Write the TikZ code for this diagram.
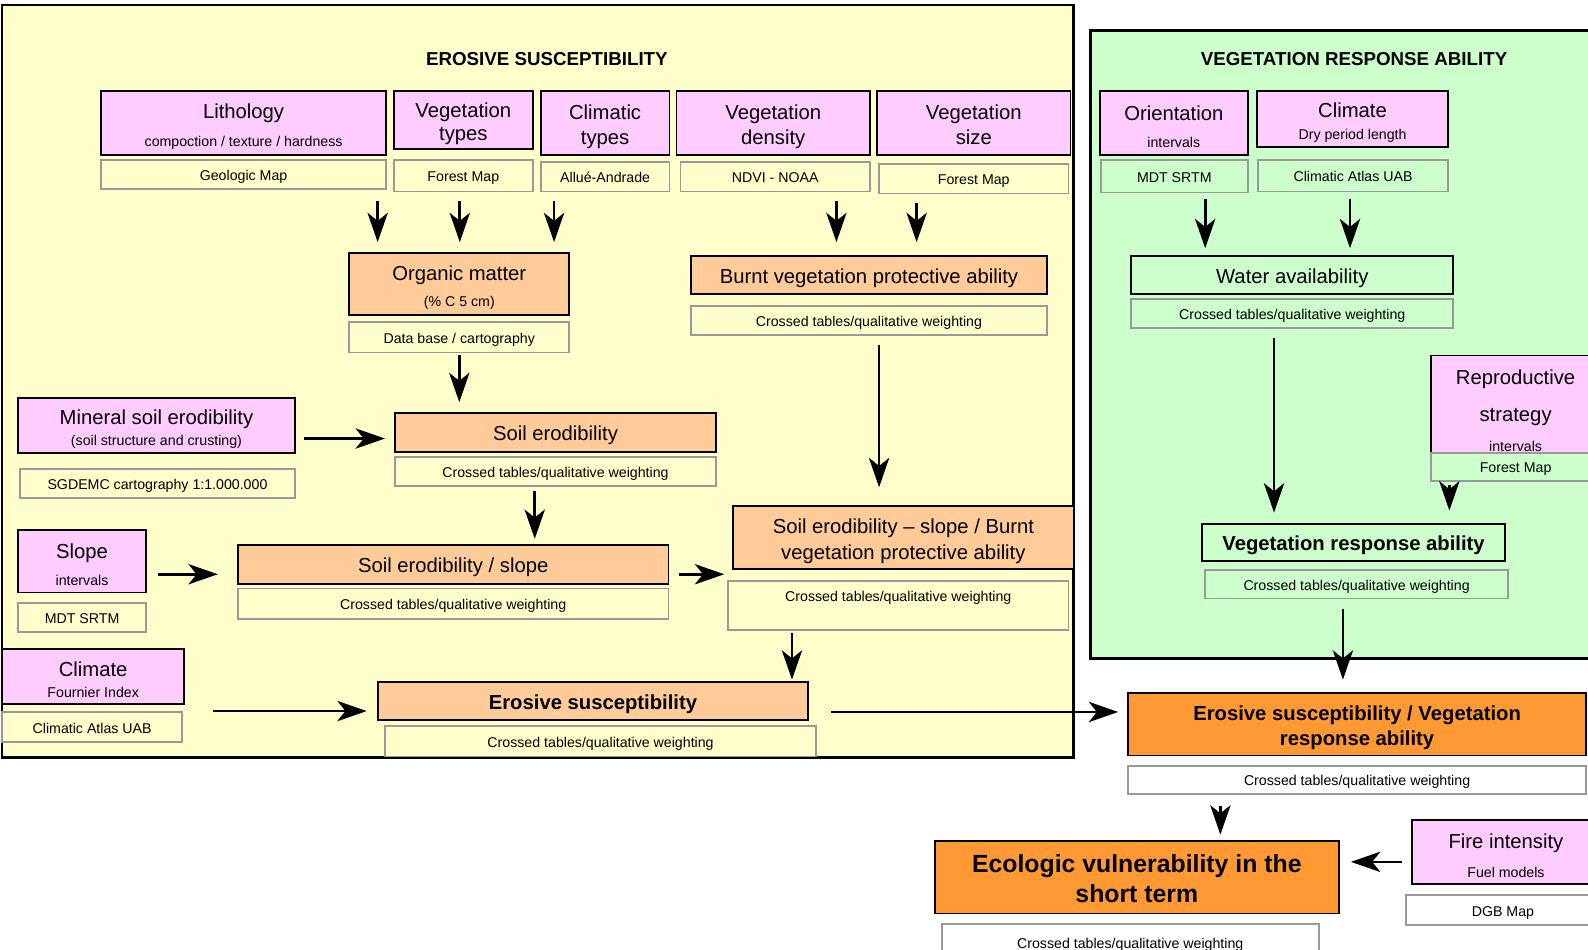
\documentclass[tikz,border=0pt]{standalone}
\usepackage{fontspec}
\setmainfont{Liberation Sans}
\usetikzlibrary{arrows.meta}

\definecolor{panelyellow}{HTML}{FFFFCC}
\definecolor{panelgreen}{HTML}{CCFFCC}
\definecolor{factorpink}{HTML}{FFCCFF}
\definecolor{stagefill}{HTML}{FFCC99}
\definecolor{finalfill}{HTML}{FF9933}
\definecolor{srcgray}{HTML}{999999}

\newcommand{\subline}[1]{{\fontsize{14}{16}\selectfont #1}}
\newcommand{\topgap}[1][21.5pt]{\rule{0pt}{#1}}

\tikzset{
  factor/.style={draw=black, line width=1.8pt, fill=factorpink, inner sep=0pt,
    align=center, font=\fontsize{20}{25}\selectfont},
  stage/.style={factor, fill=stagefill},
  final/.style={factor, fill=finalfill, font=\fontsize{20}{25}\selectfont\bfseries},
  source/.style={draw=srcgray, line width=1.8pt, inner sep=0pt, align=center,
    font=\fontsize{14}{16}\selectfont, text height=12.5pt, text depth=0.5pt},
  oneline/.style={text height=18pt, text depth=1.5pt},
  flow/.style={line width=2.6pt, -{Stealth[length=29pt, width=20pt, inset=8pt]}},
  paneltitle/.style={font=\fontsize{18.5}{22}\selectfont\bfseries},
}

\begin{document}
\begin{tikzpicture}[x=1pt, y=-1pt]
\useasboundingbox (0,0) rectangle (1568,938);

% panels
\filldraw [fill=panelyellow, line width=2.5pt] (2,5) rectangle (1060,748);
\filldraw [fill=panelgreen, line width=2.5pt] (1077,30) rectangle (1595,650);
\node [paneltitle] (estitle) at (540,58) {EROSIVE SUSCEPTIBILITY};
\node [paneltitle] (vrtitle) at (1337,58) {VEGETATION RESPONSE ABILITY};

% input factors
\node [factor, minimum width=281, minimum height=63] (litho) at (240.5,121.5) {\topgap Lithology\\[2pt]\subline{compoction / texture / hardness}};
\node [factor, minimum width=137, minimum height=57] (vegtype) at (457.5,118.5) {\topgap Vegetation\\[-2pt]types};
\node [factor, minimum width=127, minimum height=63] (clitype) at (597.5,121.5) {\topgap Climatic\\types};
\node [factor, minimum width=191, minimum height=63] (vegdens) at (763.5,121.5) {\topgap Vegetation\\density};
\node [factor, minimum width=191, minimum height=63] (vegsize) at (961.5,121.5) {\topgap Vegetation\\size\vphantom{y}};
\node [factor, minimum width=146, minimum height=63] (orient) at (1159,121.5) {\topgap Orientation\\[2pt]\subline{intervals}};
\node [factor, minimum width=189, minimum height=55] (climdry) at (1335.5,117.5) {\topgap Climate\\[-3pt]\subline{Dry period length}};
\node [factor, minimum width=273, minimum height=54] (mineral) at (154.5,420) {\topgap Mineral soil erodibility\\[-4pt]\subline{(soil structure and crusting)}};
\node [factor, minimum width=126, minimum height=62] (slope) at (81,554) {\topgap Slope\\[1pt]\subline{intervals}};
\node [factor, minimum width=180, minimum height=54] (climfour) at (92,668) {\topgap Climate\\[-4pt]\subline{Fournier Index}};
\node [factor, minimum width=167, minimum height=96] (repro) at (1496.5,399) {\topgap[27pt]Reproductive\\[12pt]strategy\\[4pt]\subline{intervals}};
\node [factor, minimum width=186, minimum height=63] (fire) at (1487,841.5) {\topgap Fire intensity\\[3pt]\subline{Fuel models}};

% data sources
\node [source, minimum width=281, minimum height=29] (geosrc) at (240.5,172.5) {Geologic Map};
\node [source, minimum width=137, minimum height=31] (forsrc) at (457.5,173.5) {Forest Map};
\node [source, minimum width=127, minimum height=29] (allsrc) at (597.5,174.5) {Allué-Andrade};
\node [source, minimum width=187, minimum height=29] (ndvisrc) at (765.5,174.5) {NDVI - NOAA};
\node [source, minimum width=187, minimum height=29] (forsrcb) at (961.5,176.5) {Forest Map};
\node [source, minimum width=145, minimum height=32] (mdtsrc) at (1159.5,174) {MDT SRTM};
\node [source, minimum width=188, minimum height=31] (atlsrc) at (1336,173.5) {Climatic Atlas UAB};
\node [source, minimum width=271, minimum height=29] (sgdsrc) at (155.5,477.5) {SGDEMC cartography 1:1.000.000};
\node [source, minimum width=126, minimum height=29] (slopesrc) at (81,609.5) {MDT SRTM};
\node [source, minimum width=178, minimum height=30] (climsrc) at (91,718) {Climatic Atlas UAB};
\node [source, minimum width=167, minimum height=28] (reprosrc) at (1496.5,461) {Forest Map};
\node [source, minimum width=192, minimum height=29] (dgbsrc) at (1484,898.5) {DGB Map};

% intermediate steps
\node [stage, minimum width=217, minimum height=61] (omatter) at (453.5,280.5) {\topgap Organic matter\\[1pt]\subline{(\% C 5 cm)}};
\node [source, minimum width=217, minimum height=30] (omsrc) at (453.5,333) {Data base / cartography};
\node [stage, oneline, minimum width=352, minimum height=37] (burnt) at (858,271.5) {Burnt vegetation protective ability};
\node [source, minimum width=352, minimum height=29] (burntsrc) at (858,316.5) {Crossed tables/qualitative weighting};
\node [stage, oneline, minimum width=317, minimum height=38] (soilerod) at (548.5,427) {Soil erodibility};
\node [source, minimum width=317, minimum height=29] (soilsrc) at (548.5,465.5) {Crossed tables/qualitative weighting};
\node [stage, oneline, minimum width=425, minimum height=39] (erslope) at (447.5,557.5) {Soil erodibility / slope};
\node [source, minimum width=425, minimum height=30] (erslopesrc) at (447.5,596) {Crossed tables/qualitative weighting};
\node [stage, minimum width=336, minimum height=62] (erburnt) at (892,531) {\topgap Soil erodibility -- slope / Burnt\\[1pt]vegetation protective ability};
\node [source, minimum width=336, minimum height=48, text height=12.5pt, text depth=20.5pt] (erburntsrc) at (887,598) {Crossed tables/qualitative weighting};
\node [stage, oneline, minimum width=425, minimum height=38, font=\fontsize{20}{25}\selectfont\bfseries] (erosive) at (585.5,692) {Erosive susceptibility};
\node [source, minimum width=426, minimum height=30] (erosivesrc) at (593,732) {Crossed tables/qualitative weighting};
\node [stage, oneline, fill=panelgreen, minimum width=318, minimum height=37] (water) at (1276,271.5) {Water availability};
\node [source, minimum width=318, minimum height=29] (watersrc) at (1276,309.5) {Crossed tables/qualitative weighting};
\node [stage, oneline, fill=panelgreen, minimum width=299, minimum height=37, font=\fontsize{20}{25}\selectfont\bfseries] (vegresp) at (1336.5,535.5) {Vegetation response ability};
\node [source, minimum width=299, minimum height=28] (vegrespsrc) at (1339.5,577) {Crossed tables/qualitative weighting};
\node [final, minimum width=452, minimum height=62] (esvr) at (1340,715) {\topgap Erosive susceptibility / Vegetation\\response ability};
\node [source, minimum width=452, minimum height=28] (esvrsrc) at (1340,770) {Crossed tables/qualitative weighting};
\node [final, minimum width=399, minimum height=72, font=\fontsize{24.5}{29}\selectfont\bfseries] (ecovul) at (1122.5,866) {\topgap[21pt]Ecologic vulnerability in the\\short term};
\node [source, minimum width=372, minimum height=38] (ecovulsrc) at (1116,931) {Crossed tables/qualitative weighting};

% connectors
\draw [flow, shorten <=11pt, shorten >=10pt] ([xshift=-9pt]geosrc.south east) -- ([xshift=-9pt]geosrc.south east |- omatter.north);
\draw [flow, shorten <=9pt, shorten >=10pt] ([xshift=-3.5pt]forsrc.south) -- ([xshift=-3.5pt]forsrc.south |- omatter.north);
\draw [flow, shorten <=9pt, shorten >=10pt] ([xshift=14pt]allsrc.south west) -- ([xshift=14pt]allsrc.south west |- omatter.north);
\draw [flow, shorten <=9pt, shorten >=13pt] ([xshift=-34pt]ndvisrc.south east) -- ([xshift=-34pt]ndvisrc.south east |- burnt.north);
\draw [flow, shorten <=9pt, shorten >=13pt] ([xshift=38pt]forsrcb.south west) -- ([xshift=38pt]forsrcb.south west |- burnt.north);
\draw [flow, shorten <=6pt, shorten >=7pt] ([xshift=30.5pt]mdtsrc.south) -- ([xshift=30.5pt]mdtsrc.south |- water.north);
\draw [flow, shorten <=7pt, shorten >=7pt] ([xshift=-3pt]atlsrc.south) -- ([xshift=-3pt]atlsrc.south |- water.north);
\draw [flow, shorten <=2pt, shorten >=10pt] (omsrc.south) -- (omsrc.south |- soilerod.north);
\draw [flow, shorten <=9pt, shorten >=18pt] ([xshift=10pt]burntsrc.south) -- ([xshift=10pt]burntsrc.south |- erburnt.north);
\draw [flow, shorten <=8pt, shorten >=9pt] ([yshift=-13pt]mineral.east) -- ([yshift=-13pt]mineral.east -| soilerod.west);
\draw [flow, shorten <=4pt, shorten >=5pt] ([xshift=-20.5pt]soilsrc.south) -- ([xshift=-20.5pt]soilsrc.south |- erslope.north);
\draw [flow, shorten <=11pt, shorten >=19pt] ([yshift=-13pt]slope.east) -- ([yshift=-13pt]slope.east -| erslope.west);
\draw [flow, shorten <=10pt, shorten >=8pt] ([yshift=-9.5pt]erslope.east) -- ([yshift=-9.5pt]erslope.east -| erburnt.west);
\draw [flow, shorten <=2pt, shorten >=1pt] ([xshift=-105pt]erburntsrc.south) -- ([xshift=-105pt]erburntsrc.south |- erosive.north);
\draw [flow, shorten <=29pt, shorten >=10pt] (climsrc.north east) -- (climsrc.north east -| erosive.west);
\draw [flow, shorten <=22pt, shorten >=9pt] ([yshift=-11pt]erosive.east) -- ([yshift=-11pt]erosive.east -| esvr.west);
\draw [flow, shorten <=9pt, shorten >=10pt] ([xshift=-18pt]watersrc.south) -- ([xshift=-18pt]watersrc.south |- vegresp.north);
\draw [flow, shorten <=3pt, shorten >=12pt] ([xshift=19pt]reprosrc.south west) -- ([xshift=19pt]reprosrc.south west |- vegresp.north);
\draw [flow, shorten <=9pt, shorten >=12pt] ([xshift=-13.5pt]vegrespsrc.south) -- ([xshift=-13.5pt]vegrespsrc.south |- esvr.north);
\draw [flow, shorten <=11pt, shorten >=5pt] ([xshift=-135pt]esvrsrc.south) -- ([xshift=-135pt]esvrsrc.south |- ecovul.north);
\draw [flow, shorten <=9pt, shorten >=11pt] ([yshift=-9.5pt]fire.west) -- ([yshift=-9.5pt]fire.west -| ecovul.east);
\end{tikzpicture}
\end{document}
